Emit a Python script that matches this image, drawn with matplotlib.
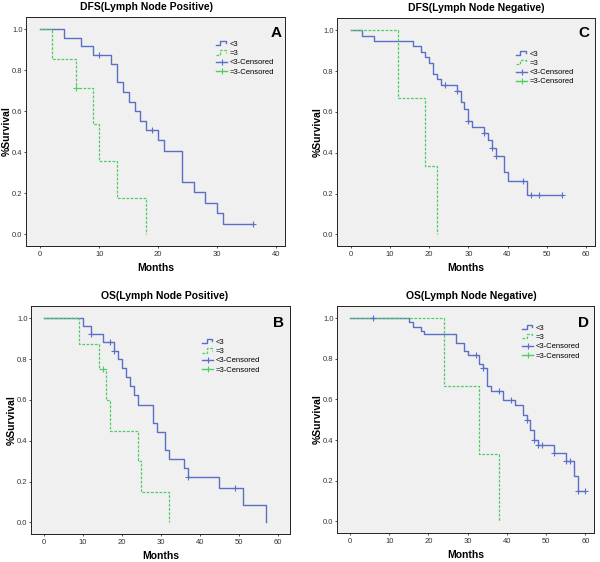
import matplotlib
matplotlib.use("Agg")
import matplotlib.pyplot as plt
import numpy as np
from matplotlib.lines import Line2D
from matplotlib.legend_handler import HandlerBase

plt.rcParams["font.family"] = ["Liberation Sans", "DejaVu Sans"]

# --- data (months, survival fraction) ---
# A: DFS, lymph node positive
a_lt3_t = [0, 4, 7, 9, 12, 13, 14, 15, 16, 17, 18, 20, 21, 24, 26, 28, 30, 31, 36]
a_lt3_s = [1.0, 0.958, 0.917, 0.876, 0.832, 0.741, 0.693, 0.647, 0.601, 0.554,
           0.508, 0.458, 0.407, 0.255, 0.204, 0.153, 0.102, 0.051, 0.051]
a_lt3_cens_t = [10, 19, 36]
a_lt3_cens_s = [0.876, 0.508, 0.051]
a_eq3_t = [0, 2, 6, 9, 10, 13, 18]
a_eq3_s = [1.0, 0.857, 0.714, 0.536, 0.357, 0.179, 0.0]
a_eq3_cens_t = [6]
a_eq3_cens_s = [0.714]

# B: OS, lymph node positive
b_lt3_t = [0, 10, 12, 15, 18, 19, 20, 21, 22, 23, 24, 28, 29, 31, 32, 36, 37, 45, 51, 57]
b_lt3_s = [1.0, 0.962, 0.924, 0.883, 0.841, 0.798, 0.754, 0.710, 0.667, 0.622,
           0.577, 0.488, 0.442, 0.354, 0.310, 0.265, 0.221, 0.166, 0.083, 0.0]
b_lt3_cens_t = [12, 17, 18, 37, 49]
b_lt3_cens_s = [0.924, 0.883, 0.841, 0.221, 0.166]
b_eq3_t = [0, 9, 14, 16, 17, 24, 25, 32]
b_eq3_s = [1.0, 0.875, 0.75, 0.60, 0.45, 0.30, 0.15, 0.0]
b_eq3_cens_t = [15]
b_eq3_cens_s = [0.75]

# C: DFS, lymph node negative
c_lt3_t = [0, 3, 6, 16, 18, 19, 20, 21, 22, 23, 27, 28, 29, 30, 31, 34, 35, 36,
           37, 39, 40, 45, 54]
c_lt3_s = [1.0, 0.974, 0.947, 0.921, 0.894, 0.868, 0.841, 0.787, 0.761, 0.734,
           0.704, 0.647, 0.615, 0.557, 0.525, 0.496, 0.461, 0.424, 0.386, 0.305,
           0.259, 0.194, 0.194]
c_lt3_cens_t = [24, 27, 30, 34, 36, 37, 44, 46, 48, 54]
c_lt3_cens_s = [0.734, 0.704, 0.557, 0.496, 0.424, 0.386, 0.259, 0.194, 0.194, 0.194]
c_eq3_t = [0, 12, 19, 22]
c_eq3_s = [1.0, 0.667, 0.333, 0.0]
c_eq3_cens_t = []
c_eq3_cens_s = []

# D: OS, lymph node negative
d_lt3_t = [0, 15, 16, 18, 19, 27, 29, 30, 33, 34, 35, 36, 39, 42, 44, 45, 46, 47,
           48, 52, 55, 57, 58, 60]
d_lt3_s = [1.0, 0.979, 0.959, 0.939, 0.920, 0.879, 0.838, 0.817, 0.777, 0.755,
           0.664, 0.643, 0.599, 0.574, 0.524, 0.499, 0.449, 0.400, 0.375, 0.337,
           0.296, 0.222, 0.148, 0.148]
d_lt3_cens_t = [6, 32, 34, 38, 41, 45, 47, 48, 49, 52, 55, 56, 58, 60]
d_lt3_cens_s = [1.0, 0.817, 0.755, 0.643, 0.599, 0.499, 0.400, 0.375, 0.375,
                0.337, 0.296, 0.296, 0.148, 0.148]
d_eq3_t = [0, 24, 33, 38]
d_eq3_s = [1.0, 0.667, 0.333, 0.0]
d_eq3_cens_t = []
d_eq3_cens_s = []

legend_labels = ["<3", "=3", "<3-Censored", "=3-Censored"]
y_ticks = [0.0, 0.2, 0.4, 0.6, 0.8, 1.0]

BLUE = "#5a6fc6"
GREEN = "#4fcf62"
BG = "#f0f0f0"


class StepHandler(HandlerBase):
    # little step glyph like the SPSS legend
    def create_artists(self, legend, orig_handle, xdescent, ydescent,
                       width, height, fontsize, trans):
        x = np.array([0.0, 0.4, 0.4, 0.85, 0.85]) * width - xdescent
        y = np.array([0.1, 0.1, 0.9, 0.9, 0.5]) * height - ydescent
        line = Line2D(x, y)
        line.update_from(orig_handle)
        line.set_transform(trans)
        return [line]


def draw_panel(ax, title, letter, lt3, eq3, xticks, xlim, title_x, letter_pos, leg_anchor):
    ax.set_facecolor(BG)
    lt_t, lt_s, lt_ct, lt_cs = lt3
    eq_t, eq_s, eq_ct, eq_cs = eq3

    l1, = ax.step(lt_t, lt_s, where="post", color=BLUE, lw=1.0)
    l2, = ax.step(eq_t, eq_s, where="post", color=GREEN, lw=0.9, dashes=(2.2, 1.2))
    ax.plot(lt_ct, lt_cs, ls="none", marker="+", ms=5, mew=0.8, color=BLUE)
    ax.plot(eq_ct, eq_cs, ls="none", marker="+", ms=5, mew=0.8, color=GREEN)

    h3 = Line2D([], [], color=BLUE, lw=1.0, marker="+", ms=5, mew=0.8)
    h4 = Line2D([], [], color=GREEN, lw=1.0, marker="+", ms=5, mew=0.8)
    ax.legend([l1, l2, h3, h4], legend_labels, loc="upper left",
              bbox_to_anchor=leg_anchor, frameon=False, fontsize=5.5,
              handlelength=1.5, handletextpad=0.3, labelspacing=0.25,
              borderpad=0, borderaxespad=0, numpoints=1,
              handler_map={l1: StepHandler(), l2: StepHandler()})

    ax.text(letter_pos[0], letter_pos[1], letter, transform=ax.transAxes,
            fontsize=11, fontweight="bold", ha="center", va="center")

    ax.set_xlim(*xlim)
    ax.set_ylim(-0.057, 1.06)
    ax.set_xticks(xticks)
    ax.set_yticks(y_ticks)
    ax.set_yticklabels(["%.1f" % v for v in y_ticks])
    ax.tick_params(labelsize=5.5, length=1.5, width=0.6, pad=1, colors="#333333")
    ax.tick_params(axis="x", pad=2)
    for sp in ax.spines.values():
        sp.set_linewidth(0.7)
        sp.set_color("#222222")
    ax.set_xlabel("Months", fontsize=7.5, fontweight="bold", labelpad=3.5)
    ax.set_ylabel("%Survival", fontsize=7.5, fontweight="bold")
    ax.yaxis.set_label_coords(-0.055, 0.5)
    ax.set_title(title, fontsize=7.5, fontweight="bold", x=title_x, pad=5)


fig = plt.figure(figsize=(6, 5.62), dpi=100)
W, H = 600.0, 562.0


def px_axes(left, top, right, bottom):
    return fig.add_axes([left / W, 1 - bottom / H, (right - left) / W, (bottom - top) / H])


ax_a = px_axes(26, 17, 285, 246)
ax_c = px_axes(337, 18, 595, 246)
ax_b = px_axes(31, 306, 290, 534)
ax_d = px_axes(337, 306, 594, 533)

draw_panel(ax_a, "DFS(Lymph Node Positive)", "A",
           (a_lt3_t, a_lt3_s, a_lt3_cens_t, a_lt3_cens_s),
           (a_eq3_t, a_eq3_s, a_eq3_cens_t, a_eq3_cens_s),
           [0, 10, 20, 30, 40], (-2.4, 41.5), 0.467, (0.965, 0.93), (0.733, 0.897))
draw_panel(ax_c, "DFS(Lymph Node Negative)", "C",
           (c_lt3_t, c_lt3_s, c_lt3_cens_t, c_lt3_cens_s),
           (c_eq3_t, c_eq3_s, c_eq3_cens_t, c_eq3_cens_s),
           [0, 10, 20, 30, 40, 50, 60], (-3.5, 62.3), 0.54, (0.955, 0.935), (0.693, 0.858))
draw_panel(ax_b, "OS(Lymph Node Positive)", "B",
           (b_lt3_t, b_lt3_s, b_lt3_cens_t, b_lt3_cens_s),
           (b_eq3_t, b_eq3_s, b_eq3_cens_t, b_eq3_cens_s),
           [0, 10, 20, 30, 40, 50, 60], (-3.4, 63.2), 0.514, (0.955, 0.925), (0.66, 0.857))
draw_panel(ax_d, "OS(Lymph Node Negative)", "D",
           (d_lt3_t, d_lt3_s, d_lt3_cens_t, d_lt3_cens_s),
           (d_eq3_t, d_eq3_s, d_eq3_cens_t, d_eq3_cens_s),
           [0, 10, 20, 30, 40, 50, 60], (-3.3, 62.2), 0.524, (0.96, 0.925), (0.72, 0.919))

fig.savefig("out.png", dpi=100)
